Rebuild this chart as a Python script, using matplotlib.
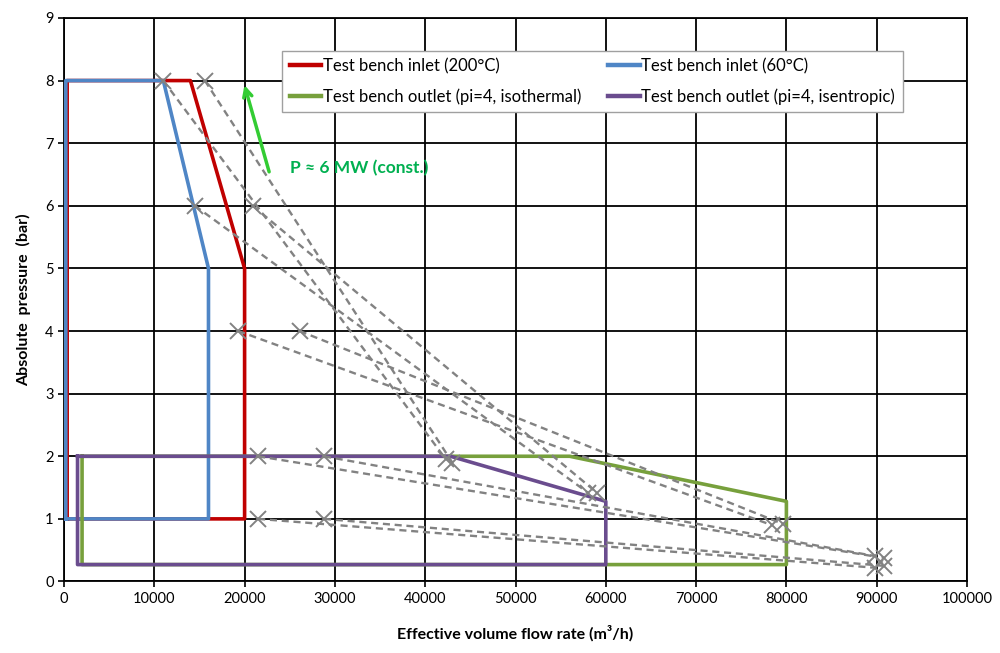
import numpy as np
import matplotlib as mpl
mpl.use('Agg')
import matplotlib.pyplot as plt

plt.rcParams['font.family'] = ['Lato', 'DejaVu Sans']

# operating envelopes (volume flow in m3/h, pressure in bar)
inlet200_x = [350, 20000, 20000, 14000, 350, 350]
inlet200_y = [1, 1, 5, 8, 8, 1]
inlet60_x = [200, 16000, 16000, 11000, 200, 200]
inlet60_y = [1, 1, 5, 8, 8, 1]
out_iso_x = [2000, 56000, 80000, 80000, 2000, 2000]
out_iso_y = [2, 2, 1.28, 0.27, 0.27, 2]
out_isen_x = [1500, 42800, 60000, 60000, 1500, 1500]
out_isen_y = [2, 2, 1.28, 0.27, 0.27, 2]

# constant power lines: inlet point -> outlet point
cp_x0 = [11000, 15600, 14500, 20900, 19300, 26100, 21500, 28800, 21500, 28800]
cp_y0 = [8, 8, 6, 6, 4, 4, 2, 2, 1, 1]
cp_x1 = [42300, 43000, 58000, 59000, 78400, 79600, 89800, 90800, 89800, 90800]
cp_y1 = [1.95, 1.9, 1.42, 1.42, 0.9, 0.92, 0.4, 0.38, 0.22, 0.25]

xticks = list(range(0, 100001, 10000))
yticks = list(range(0, 10))

fig = plt.figure(figsize=(10, 6.53), dpi=100)
ax = fig.add_axes([0.064, 0.1095, 0.903, 0.863])

l1, = ax.plot(inlet200_x, inlet200_y, color='#C00000', lw=2.6, zorder=3,
              label='Test bench inlet (200°C)')
l2, = ax.plot(inlet60_x, inlet60_y, color='#4F86C6', lw=2.6, zorder=3,
              label='Test bench inlet (60°C)')
l3, = ax.plot(out_iso_x, out_iso_y, color='#77A03C', lw=2.6, zorder=3,
              label='Test bench outlet (pi=4, isothermal)')
l4, = ax.plot(out_isen_x, out_isen_y, color='#6A4C8E', lw=2.6, zorder=3,
              label='Test bench outlet (pi=4, isentropic)')

for i in range(len(cp_x0)):
    ax.plot([cp_x0[i], cp_x1[i]], [cp_y0[i], cp_y1[i]], color='#828282',
            lw=1.7, ls=(0, (3, 2)), marker='x', ms=12, mew=1.4, zorder=4)

ax.annotate('', xy=(19900, 7.97), xytext=(22800, 6.5),
            arrowprops=dict(arrowstyle='->,head_length=0.6,head_width=0.3',
                            color='#33CC33', lw=2.5), zorder=5)
ax.text(25000, 6.6, 'P ≈ 6 MW (const.)', color='#00B050', fontsize=12.5,
        fontweight='bold', va='center', ha='left')

ax.set_xlim(0, 100000)
ax.set_ylim(0, 9)
ax.set_xticks(xticks)
ax.set_xticklabels([str(v) for v in xticks])
ax.set_yticks(yticks)
ax.grid(True, color='black', lw=1.3, zorder=0)
ax.set_axisbelow(True)
for s in ax.spines.values():
    s.set_color('black')
    s.set_linewidth(1.3)
ax.tick_params(labelsize=10.5, length=4, width=1.2, colors='black')

ax.set_xlabel('Effective volume flow rate (m³/h)', fontsize=11.5,
              fontweight='bold', labelpad=14)
ax.set_ylabel('Absolute  pressure  (bar)', fontsize=11.5, fontweight='bold',
              labelpad=10)

leg = ax.legend(handles=[l1, l3, l2, l4], ncol=2, loc='upper left',
                bbox_to_anchor=(0.2325, 0.957), fontsize=12,
                frameon=True, fancybox=False, edgecolor='#a0a0a0',
                framealpha=1, handlelength=1.9, handletextpad=0.1,
                columnspacing=1.6, borderpad=0.45, labelspacing=0.85)
leg.get_frame().set_linewidth(1.0)
leg.set_zorder(6)
for h in leg.get_lines():
    h.set_linewidth(3.2)

plt.savefig('out.png', dpi=100)
